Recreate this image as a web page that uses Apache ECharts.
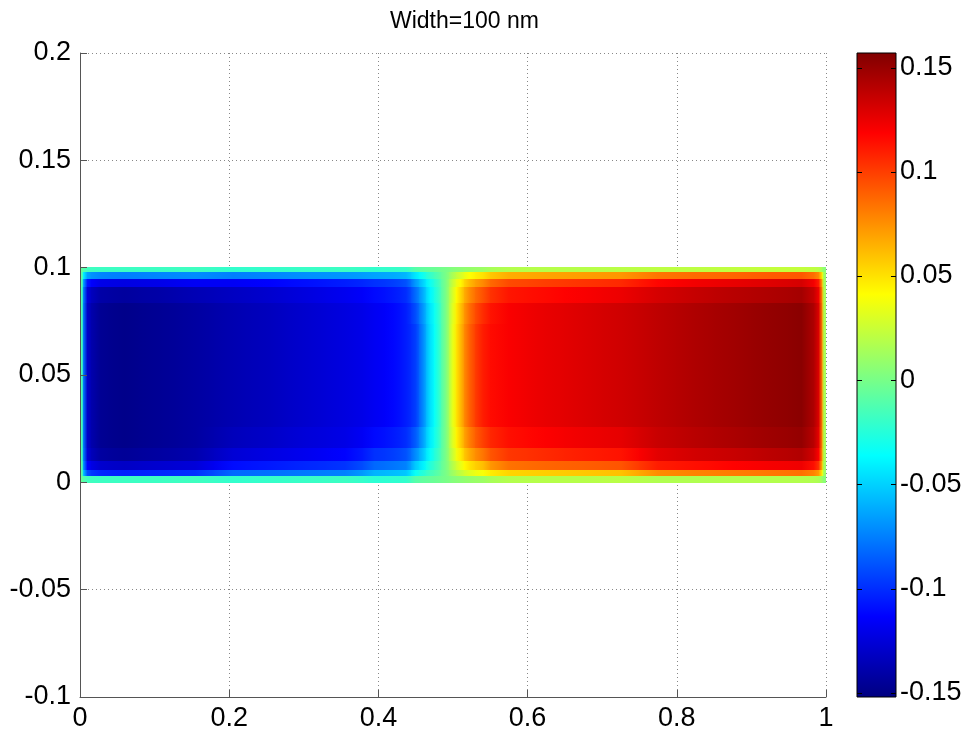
<!DOCTYPE html>
<html lang="en">
<head>
  <meta charset="UTF-8">
  <title>Width=100 nm</title>
  <style>
    html, body { margin: 0; background: #fff; }
    #main { width: 967px; height: 744px; }
  </style>
</head>
<body>
  <div id="main"></div>
  <script src="https://cdn.jsdelivr.net/npm/echarts@6/dist/echarts.min.js"></script>
  <script>
    // cell edges of the sampled field (x along the strip, y across it)
    const xEdges = [0, 0.005, 0.015, 0.04, 0.08, 0.13, 0.18, 0.23, 0.28, 0.33, 0.38, 0.41, 0.43, 0.445, 0.455, 0.465,
      0.475, 0.485, 0.495, 0.505, 0.515, 0.53, 0.55, 0.6, 0.65, 0.7, 0.75, 0.8, 0.85, 0.9, 0.95, 0.985, 0.995, 1];
    const yEdges = [0, 0.003, 0.006, 0.01, 0.016, 0.026, 0.074, 0.084, 0.091, 0.095, 0.098, 0.1];

    // field values, one row per y band, bottom to top
    const row0 = [-0.005, -0.016, -0.018, -0.018, -0.018, -0.017, -0.021, -0.020, -0.019, -0.018, -0.023, -0.022, -0.021, -0.010, -0.007, -0.005, -0.003, 0, 0.004, 0.006, 0.009, 0.011, 0.018, 0.019, 0.019, 0.020, 0.017, 0.017, 0.018, 0.018, 0.018, 0.016, 0.005];
    const row1 = [-0.010, -0.091, -0.102, -0.104, -0.102, -0.099, -0.082, -0.080, -0.077, -0.074, -0.059, -0.056, -0.053, -0.033, -0.025, -0.016, -0.009, 0, 0.012, 0.022, 0.032, 0.039, 0.054, 0.056, 0.058, 0.060, 0.076, 0.079, 0.081, 0.083, 0.085, 0.072, 0.010];
    const row2 = [-0.012, -0.114, -0.128, -0.131, -0.128, -0.125, -0.110, -0.106, -0.102, -0.098, -0.082, -0.078, -0.074, -0.052, -0.040, -0.025, -0.014, 0, 0.019, 0.034, 0.050, 0.061, 0.084, 0.088, 0.090, 0.093, 0.110, 0.114, 0.118, 0.121, 0.123, 0.104, 0.012];
    const row3 = [-0.015, -0.126, -0.142, -0.145, -0.142, -0.138, -0.126, -0.122, -0.118, -0.113, -0.099, -0.095, -0.089, -0.071, -0.054, -0.034, -0.019, 0, 0.026, 0.047, 0.068, 0.083, 0.102, 0.106, 0.110, 0.113, 0.127, 0.132, 0.135, 0.139, 0.142, 0.120, 0.015];
    const row4 = [-0.015, -0.130, -0.146, -0.149, -0.146, -0.142, -0.134, -0.130, -0.125, -0.121, -0.111, -0.106, -0.100, -0.086, -0.065, -0.041, -0.023, 0, 0.032, 0.056, 0.081, 0.099, 0.114, 0.119, 0.123, 0.126, 0.135, 0.140, 0.144, 0.148, 0.151, 0.127, 0.015];
    const row5 = [-0.015, -0.130, -0.146, -0.149, -0.146, -0.142, -0.137, -0.133, -0.128, -0.123, -0.117, -0.112, -0.105, -0.095, -0.072, -0.045, -0.025, 0, 0.035, 0.062, 0.090, 0.110, 0.120, 0.125, 0.129, 0.133, 0.138, 0.143, 0.147, 0.151, 0.154, 0.130, 0.015];
    const row6 = [-0.015, -0.130, -0.146, -0.149, -0.146, -0.142, -0.137, -0.133, -0.128, -0.123, -0.117, -0.112, -0.105, -0.090, -0.068, -0.043, -0.024, 0, 0.033, 0.059, 0.086, 0.105, 0.120, 0.125, 0.129, 0.133, 0.138, 0.143, 0.147, 0.151, 0.154, 0.130, 0.015];
    const row7 = [-0.015, -0.125, -0.140, -0.143, -0.140, -0.136, -0.132, -0.128, -0.123, -0.118, -0.111, -0.106, -0.100, -0.081, -0.061, -0.038, -0.021, 0, 0.030, 0.053, 0.077, 0.094, 0.112, 0.116, 0.120, 0.124, 0.131, 0.136, 0.140, 0.143, 0.146, 0.124, 0.015];
    const row8 = [-0.012, -0.107, -0.120, -0.122, -0.120, -0.116, -0.116, -0.113, -0.109, -0.105, -0.099, -0.095, -0.089, -0.067, -0.050, -0.032, -0.018, 0, 0.025, 0.043, 0.063, 0.077, 0.096, 0.100, 0.103, 0.106, 0.117, 0.122, 0.125, 0.128, 0.131, 0.111, 0.012];
    const row9 = [-0.010, -0.065, -0.073, -0.075, -0.073, -0.071, -0.075, -0.073, -0.070, -0.068, -0.064, -0.062, -0.058, -0.043, -0.032, -0.020, -0.011, 0, 0.016, 0.028, 0.041, 0.050, 0.066, 0.069, 0.071, 0.073, 0.083, 0.086, 0.088, 0.091, 0.092, 0.078, 0.010];
    const row10 = [-0.005, -0.016, -0.018, -0.018, -0.018, -0.017, -0.021, -0.020, -0.019, -0.018, -0.021, -0.020, -0.019, -0.010, -0.007, -0.005, -0.003, 0, 0.004, 0.006, 0.009, 0.011, 0.018, 0.019, 0.019, 0.020, 0.021, 0.021, 0.022, 0.023, 0.023, 0.020, 0.005];
    const fieldRows = [row0, row1, row2, row3, row4, row5, row6, row7, row8, row9, row10];

    const xTicks = [0, 0.2, 0.4, 0.6, 0.8, 1];
    const yTicks = [-0.1, -0.05, 0, 0.05, 0.1, 0.15, 0.2];
    const cbarTicks = [-0.15, -0.1, -0.05, 0, 0.05, 0.1, 0.15];
    const cbarMin = -0.152;
    const cbarMax = 0.157;
    const jet = ['#000080', '#0000ff', '#0080ff', '#00ffff', '#80ff80', '#ffff00', '#ff8000', '#ff0000', '#800000'];

    const font = '"Liberation Sans", Arial, Helvetica, sans-serif';
    const fmt = v => String(+(+v).toFixed(3));
    const jetColor = v => echarts.color.lerp(Math.min(1, Math.max(0, (v - cbarMin) / (cbarMax - cbarMin))), jet);

    // [x0, x1, y0, y1, value, row, col]
    const cells = [];
    fieldRows.forEach((row, j) => {
      row.forEach((v, i) => {
        cells.push([xEdges[i], xEdges[i + 1], yEdges[j], yEdges[j + 1], v, j, i]);
      });
    });

    // shade each cell across x like MATLAB's interpolated shading
    function renderCell(params, api) {
      const p0 = api.coord([api.value(0), api.value(2)]);
      const p1 = api.coord([api.value(1), api.value(3)]);
      const row = fieldRows[api.value(5)];
      const i = api.value(6);
      const v = row[i];
      const vl = i > 0 ? (v + row[i - 1]) / 2 : v;
      const vr = i < row.length - 1 ? (v + row[i + 1]) / 2 : v;
      const x = Math.floor(p0[0]), y = Math.floor(p1[1]);
      return {
        type: 'rect',
        shape: { x: x, y: y, width: Math.ceil(p1[0]) - x, height: Math.ceil(p0[1]) - y },
        style: {
          fill: new echarts.graphic.LinearGradient(0, 0, 1, 0, [
            { offset: 0, color: jetColor(vl) },
            { offset: 0.5, color: api.visual('color') },
            { offset: 1, color: jetColor(vr) }
          ])
        }
      };
    }

    function renderBar(params, api) {
      const p0 = api.coord([api.value(0), api.value(2)]);
      const p1 = api.coord([api.value(1), api.value(3)]);
      const stops = jet.map((c, i) => ({ offset: i / (jet.length - 1), color: c }));
      const children = [{
        type: 'rect',
        shape: { x: p0[0], y: p1[1], width: p1[0] - p0[0], height: p0[1] - p1[1] },
        style: { fill: new echarts.graphic.LinearGradient(0, 1, 0, 0, stops), stroke: '#000', lineWidth: 1 }
      }];
      cbarTicks.forEach(t => {
        const y = Math.round(api.coord([0, t])[1]) + 0.5;
        children.push({ type: 'line', shape: { x1: p0[0], y1: y, x2: p0[0] + 5, y2: y }, style: { stroke: '#000', lineWidth: 1 } });
        children.push({ type: 'line', shape: { x1: p1[0] - 5, y1: y, x2: p1[0], y2: y }, style: { stroke: '#000', lineWidth: 1 } });
      });
      return { type: 'group', children: children };
    }

    const tickLabel = { color: '#000', fontSize: 27, fontFamily: font, formatter: fmt };
    const gridDots = { show: true, lineStyle: { color: '#888', width: 1, type: [1, 3] } };

    const chart = echarts.init(document.getElementById('main'));
    chart.setOption({
      animation: false,
      backgroundColor: '#fff',
      title: {
        text: 'Width=100 nm',
        left: 385, top: 5,
        textStyle: { fontSize: 23, fontWeight: 'normal', color: '#000', fontFamily: font }
      },
      grid: [
        { left: 80, top: 53, width: 746, height: 644 },
        { left: 857, top: 53, width: 39, height: 644 }
      ],
      visualMap: {
        type: 'continuous', show: false, seriesIndex: 0, dimension: 4,
        min: cbarMin, max: cbarMax, inRange: { color: jet }
      },
      xAxis: [
        {
          gridIndex: 0, type: 'value', min: xTicks[0], max: xTicks[xTicks.length - 1], interval: 0.2, z: 5,
          axisLine: { show: true, onZero: false, lineStyle: { color: '#555' } },
          axisTick: { show: true, inside: true, length: 7, lineStyle: { color: '#555' } },
          axisLabel: Object.assign({ margin: 8 }, tickLabel),
          splitLine: { show: false }
        },
        {
          gridIndex: 0, type: 'value', position: 'top', min: xTicks[0], max: xTicks[xTicks.length - 1], interval: 0.2, z: 0,
          axisLine: { show: false }, axisTick: { show: false }, axisLabel: { show: false },
          splitLine: gridDots
        },
        { gridIndex: 1, type: 'value', min: 0, max: 1, show: false }
      ],
      yAxis: [
        {
          gridIndex: 0, type: 'value', min: yTicks[0], max: yTicks[yTicks.length - 1], interval: 0.05, z: 5,
          axisLine: { show: true, onZero: false, lineStyle: { color: '#555' } },
          axisTick: { show: true, inside: true, length: 7, lineStyle: { color: '#555' } },
          axisLabel: Object.assign({ margin: 9 }, tickLabel),
          splitLine: { show: false }
        },
        {
          gridIndex: 0, type: 'value', position: 'right', min: yTicks[0], max: yTicks[yTicks.length - 1], interval: 0.05, z: 0,
          axisLine: { show: false }, axisTick: { show: false }, axisLabel: { show: false },
          splitLine: gridDots
        },
        {
          gridIndex: 1, type: 'value', position: 'right', min: cbarMin, max: cbarMax, z: 5,
          axisLine: { show: false }, splitLine: { show: false }, axisTick: { show: false },
          axisLabel: Object.assign({ margin: 4, customValues: cbarTicks }, tickLabel)
        }
      ],
      series: [
        {
          type: 'custom', xAxisIndex: 0, yAxisIndex: 0,
          renderItem: renderCell,
          encode: { x: [0, 1], y: [2, 3] },
          data: cells
        },
        {
          type: 'custom', xAxisIndex: 2, yAxisIndex: 2,
          renderItem: renderBar,
          encode: { x: [0, 1], y: [2, 3] },
          data: [[0, 1, cbarMin, cbarMax]]
        }
      ]
    });
  </script>
</body>
</html>
